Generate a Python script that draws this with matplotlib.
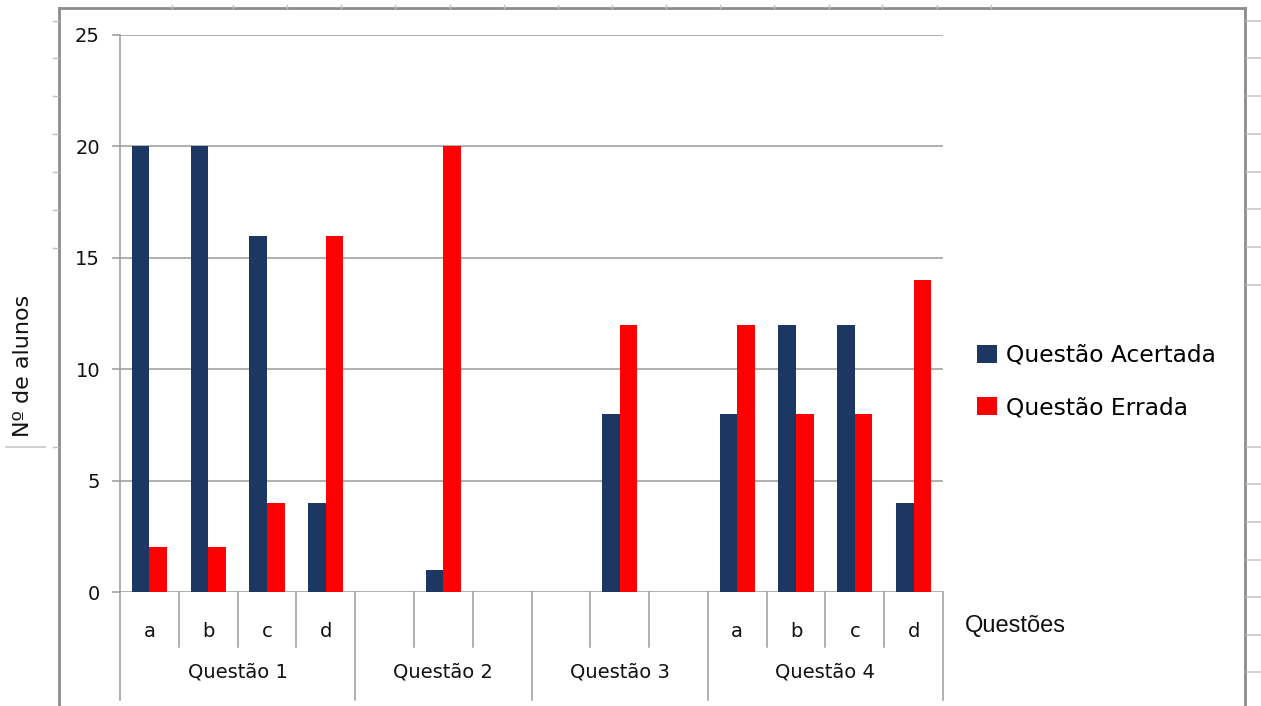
import numpy as np
import matplotlib
matplotlib.use("Agg")
import matplotlib.pyplot as plt
from matplotlib.lines import Line2D

# data
groups = ["Questão 1", "Questão 2", "Questão 3", "Questão 4"]
group_sizes = [4, 3, 3, 4]
sub_labels = ["a", "b", "c", "d", "", "", "", "", "", "", "a", "b", "c", "d"]
acertada = [20, 20, 16, 4, np.nan, 1, np.nan, np.nan, 8, np.nan, 8, 12, 12, 4]
errada = [2, 2, 4, 16, np.nan, 20, np.nan, np.nan, 12, np.nan, 12, 8, 8, 14]
yticks = [0, 5, 10, 15, 20, 25]

navy = "#1c3761"
red = "#ff0000"
gray = "#9a9a9a"
frame = "#8c8c8c"

W, H = 1261, 706
fig = plt.figure(figsize=(W / 100, H / 100), dpi=100)
fig.patch.set_facecolor("white")


def fx(x):
    return x / W


def fy(y):
    return 1 - y / H


def fline(x0, y0, x1, y1, color=frame, lw=1.5):
    fig.add_artist(Line2D([fx(x0), fx(x1)], [fy(y0), fy(y1)], color=color,
                          lw=lw, transform=fig.transFigure))


# spreadsheet background bits
fline(59, 8, 1245, 8, lw=2)
fline(59, 8, 59, 706, lw=2)
fline(1245, 8, 1245, 706, lw=2)
for y in [21, 58, 96, 134, 172, 210, 248, 447]:
    fline(53, y, 58, y, color="#c0c0c0", lw=1)
fline(6, 447, 45, 447, color="#c8c8c8", lw=1.2)
for y in [21, 58, 96, 134, 172, 209, 247, 285, 447, 484, 522, 560, 597, 635, 672]:
    fline(1247, y, 1261, y, color="#c8c8c8", lw=1.2)
for x in [172, 233, 287, 341, 395, 450, 504, 558, 612, 666, 720, 774, 829, 882, 937, 991]:
    fline(x, 5, x, 8, color="#c0c0c0", lw=1)

# plot area
ax = fig.add_axes([fx(120), fy(592), fx(943) - fx(120), fy(35) - fy(592)])
n = len(acertada)
x = np.arange(n) + 0.5
bw = 0.3
b1 = ax.bar(x - bw / 2, acertada, bw, color=navy, label="Questão Acertada", zorder=3)
b2 = ax.bar(x + bw / 2, errada, bw, color=red, label="Questão Errada", zorder=3)

ax.set_xlim(0, n)
ax.set_ylim(0, 25)
ax.set_yticks(yticks)
ax.yaxis.grid(True, color=gray, lw=1.1, zorder=0)
ax.tick_params(axis="y", length=5.8, width=1.1, color=gray, pad=8.6,
               labelsize=14, labelcolor="#111111")
ax.tick_params(axis="x", bottom=False, labelbottom=False)
for s in ["top", "right", "bottom"]:
    ax.spines[s].set_visible(False)
ax.spines["left"].set_color(gray)
ax.spines["left"].set_linewidth(1.1)

# category axis (two levels)
tr = ax.get_xaxis_transform()
edges = np.concatenate([[0], np.cumsum(group_sizes)])
for i in range(n + 1):
    if i in edges:
        ax.plot([i, i], [0, -0.194], color=gray, lw=1.1, transform=tr, clip_on=False)
    else:
        ax.plot([i, i], [0, -0.0987], color=gray, lw=1.1, transform=tr, clip_on=False)
for i, lab in enumerate(sub_labels):
    ax.text(i + 0.5, -0.0718, lab, transform=tr, ha="center", va="center",
            fontsize=14, color="#111111")
for g, lab in enumerate(groups):
    ax.text((edges[g] + edges[g + 1]) / 2, -0.1436, lab, transform=tr,
            ha="center", va="center", fontsize=14, color="#111111")

fig.text(fx(965), fy(626), "Questões", ha="left", va="center", fontsize=17,
         family="Liberation Sans", color="#111111")
fig.text(fx(23), fy(366), "Nº de alunos", rotation=90, ha="center", va="center",
         fontsize=16, color="#111111")

ax.legend(handles=[b1, b2], loc="center left", bbox_to_anchor=(fx(977), fy(381.5)),
          bbox_transform=fig.transFigure, frameon=False, fontsize=16.8,
          borderpad=0, borderaxespad=0, handlelength=0.86, handleheight=0.82,
          handletextpad=0.39, labelspacing=1.27)

fig.savefig("out.png", dpi=100)
